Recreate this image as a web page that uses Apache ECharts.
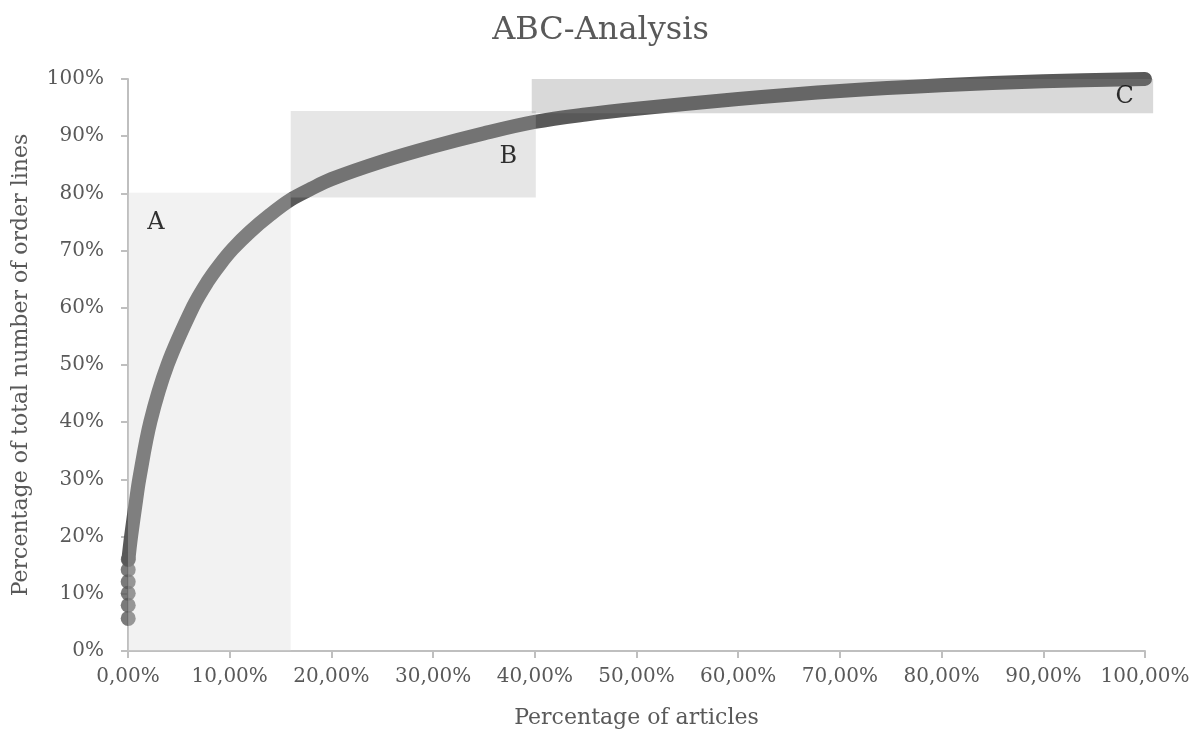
<!DOCTYPE html>
<html>
<head>
<meta charset="utf-8">
<script src="https://cdn.jsdelivr.net/npm/echarts@6/dist/echarts.min.js"></script>
<style>html,body{margin:0;padding:0;background:#fff;}#c{width:1201px;height:741px;}</style>
</head>
<body>
<div id="c"></div>
<script>
// Cumulative curve (share of articles, share of order lines)
var curveX = [0.0004, 0.003, 0.008, 0.011, 0.022, 0.039, 0.064, 0.078, 0.09, 0.103, 0.12, 0.14, 0.16, 0.18, 0.20, 0.25, 0.30, 0.35, 0.40, 0.45, 0.50, 0.60, 0.70, 0.80, 0.90, 1.00];
var curveY = [0.16, 0.20, 0.264, 0.30, 0.401, 0.501, 0.602, 0.645, 0.675, 0.703, 0.733, 0.763, 0.789, 0.808, 0.825, 0.856, 0.882, 0.905, 0.925, 0.938, 0.948, 0.965, 0.979, 0.989, 0.996, 1.00];
// first articles shown as separate dots
var dotX = [0.0002, 0.0002, 0.0002, 0.0002, 0.0002, 0.0003];
var dotY = [0.057, 0.080, 0.101, 0.121, 0.142, 0.160];
// class boxes: [xStart, xEnd, yStart, yEnd]
var boxNames = ['A', 'B', 'C'];
var boxes = [[0, 0.160, 0, 0.801], [0.160, 0.401, 0.793, 0.944], [0.397, 1.008, 0.940, 1.0]];
var boxColors = ['rgba(213,213,213,0.31)', 'rgba(174,174,174,0.31)', 'rgba(132,132,132,0.31)'];
// class label positions
var labelX = [0.0275, 0.374, 0.980];
var labelY = [0.748, 0.864, 0.969];

var FONT = 'DejaVu Serif';
var chart = echarts.init(document.getElementById('c'), null, {renderer: 'canvas'});
var curveData = curveX.map(function (x, i) { return [x, curveY[i]]; });
var dotData = dotX.map(function (x, i) { return [x, dotY[i]]; });
var boxData = boxes.map(function (b, i) { return {value: b}; });
var labelData = labelX.map(function (x, i) { return {name: boxNames[i], value: [x, labelY[i]]}; });

chart.setOption({
  animation: false,
  title: {
    text: 'ABC-Analysis', left: 'center', top: 10,
    textStyle: {fontFamily: FONT, fontSize: 32, fontWeight: 'normal', color: '#595959'}
  },
  grid: {left: 128, right: 56, top: 79, bottom: 90, containLabel: false},
  xAxis: {
    type: 'value', min: 0, max: 1, interval: 0.1,
    name: 'Percentage of articles', nameLocation: 'middle', nameGap: 56,
    nameTextStyle: {fontFamily: FONT, fontSize: 22, color: '#595959'},
    axisLine: {show: true, lineStyle: {color: '#bfbfbf', width: 2}},
    axisTick: {show: true, length: 7, lineStyle: {color: '#bfbfbf', width: 2}},
    splitLine: {show: false},
    axisLabel: {
      fontFamily: FONT, fontSize: 20, color: '#595959', margin: 16,
      formatter: function (v) { return (v * 100).toFixed(2).replace('.', ',') + '%'; }
    }
  },
  yAxis: {
    type: 'value', min: 0, max: 1, interval: 0.1,
    name: 'Percentage of total number of order lines', nameLocation: 'middle', nameGap: 96,
    nameTextStyle: {fontFamily: FONT, fontSize: 22, color: '#595959'},
    axisLine: {show: true, lineStyle: {color: '#bfbfbf', width: 2}},
    axisTick: {show: true, length: 7, lineStyle: {color: '#bfbfbf', width: 2}},
    splitLine: {show: false},
    axisLabel: {
      fontFamily: FONT, fontSize: 20, color: '#595959', margin: 24,
      formatter: function (v) { return Math.round(v * 100) + '%'; }
    }
  },
  series: [
    {
      type: 'line', data: curveData, smooth: 0.35,
      showSymbol: false, symbol: 'none', z: 2, clip: false,
      lineStyle: {color: '#595959', width: 14, cap: 'round', join: 'round'}
    },
    {
      type: 'scatter', data: dotData, symbol: 'circle', symbolSize: 15, z: 2, clip: false,
      itemStyle: {color: '#595959'}
    },
    {
      type: 'custom', data: boxData, z: 5, clip: false,
      renderItem: function (params, api) {
        var p0 = api.coord([api.value(0), api.value(3)]);
        var p1 = api.coord([api.value(1), api.value(2)]);
        return {
          type: 'rect',
          shape: {x: p0[0], y: p0[1], width: p1[0] - p0[0], height: p1[1] - p0[1]},
          style: {fill: boxColors[params.dataIndex]}
        };
      }
    },
    {
      type: 'scatter', data: labelData, symbolSize: 1, z: 10, clip: false,
      itemStyle: {color: 'rgba(0,0,0,0)'},
      label: {
        show: true, position: 'inside', formatter: '{b}',
        fontFamily: FONT, fontSize: 24, color: '#000000'
      }
    }
  ]
});
</script>
</body>
</html>
